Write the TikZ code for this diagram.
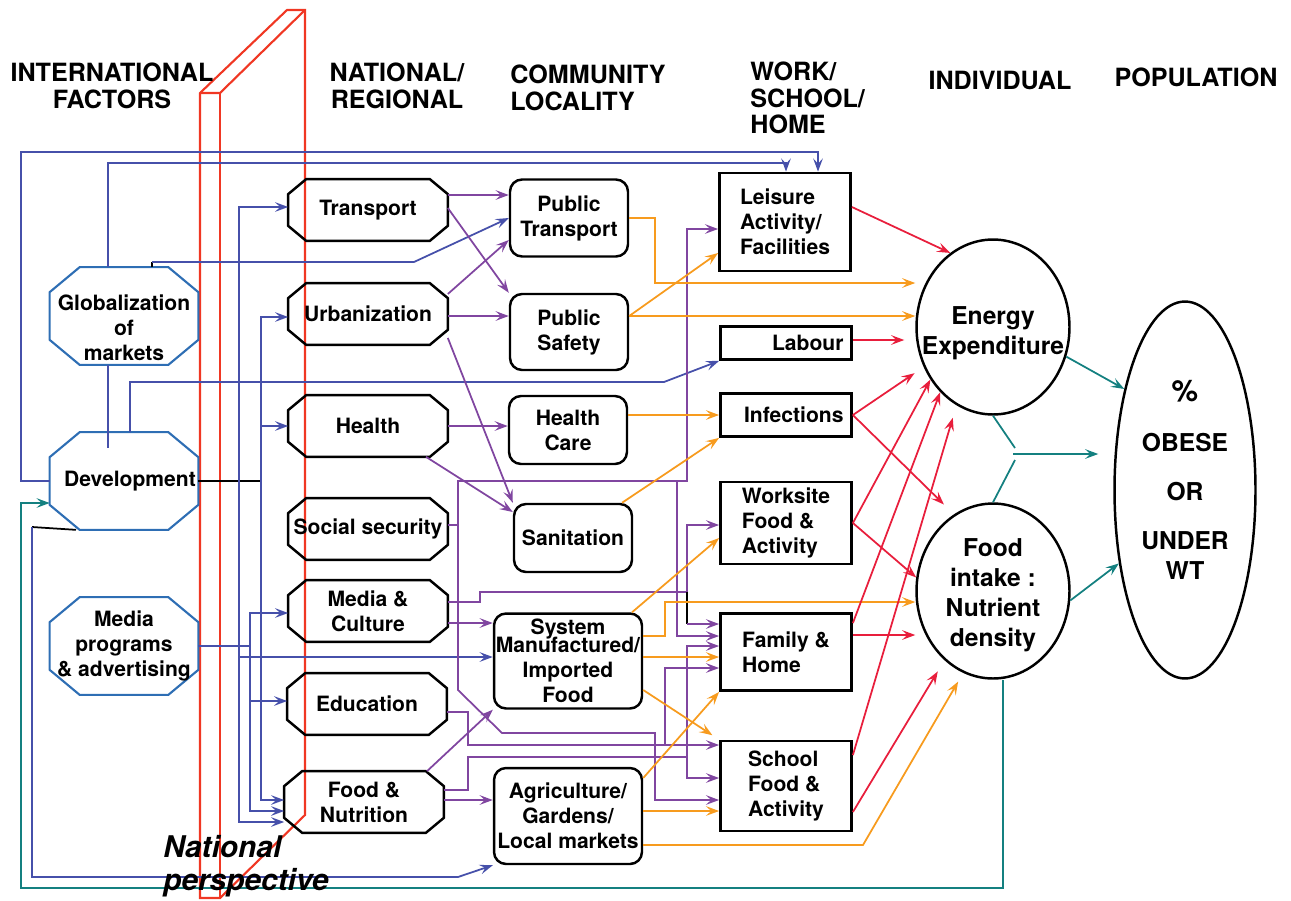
\documentclass[tikz,border=0pt]{standalone}
\usepackage{fontspec}
\setmainfont{TeX Gyre Heros}
\usetikzlibrary{arrows.meta,shapes.geometric}

\definecolor{octblue}{RGB}{46,110,180}
\definecolor{lnblue}{RGB}{70,80,170}
\definecolor{lnpurple}{RGB}{128,70,160}
\definecolor{lnorange}{RGB}{247,155,30}
\definecolor{lnred}{RGB}{232,30,60}
\definecolor{lnteal}{RGB}{20,128,128}
\definecolor{prism}{RGB}{240,55,35}

\newcommand{\ndfont}{\bfseries\fontsize{12}{14.2}\selectfont}
\newcommand{\hdrfont}{\bfseries\fontsize{14.3}{15}\selectfont}
\newcommand{\indvfont}{\bfseries\fontsize{14}{17}\selectfont}
\newcommand{\perspfont}{\bfseries\itshape\fontsize{17}{19}\selectfont}

\tikzset{
	octo/.style n args={3}{append after command={\pgfextra{\draw [#1]
		([xshift=#2]\tikzlastnode.north west) -- ([xshift=-#2]\tikzlastnode.north east) --
		([yshift=-#3]\tikzlastnode.north east) -- ([yshift=#3]\tikzlastnode.south east) --
		([xshift=-#2]\tikzlastnode.south east) -- ([xshift=#2]\tikzlastnode.south west) --
		([yshift=#3]\tikzlastnode.south west) -- ([yshift=-#3]\tikzlastnode.north west) -- cycle;}}},
	intl/.style={minimum width=2.96cm, minimum height=1.94cm, inner sep=0pt, font=\ndfont, align=center,
		octo={draw=octblue, line width=1.2pt}{0.6cm}{0.5cm}},
	natl/.style={minimum width=3.18cm, minimum height=1.22cm, inner sep=0pt, font=\ndfont, align=center,
		octo={line width=1.4pt}{0.36cm}{0.3cm}},
	comm/.style={draw, line width=1.4pt, rounded corners=0.24cm, minimum width=2.36cm, inner sep=0pt, font=\ndfont, align=center},
	work/.style={draw, line width=1.6pt, minimum width=2.62cm, inner sep=0pt, font=\ndfont, align=left},
	indiv/.style={draw, ellipse, line width=1.4pt, minimum width=3.06cm, minimum height=3.5cm, inner sep=0pt},
	ndtxt/.style={font=\ndfont, align=center},
	indtxt/.style={font=\indvfont, align=center},
	hdr/.style={font=\hdrfont, align=center, inner sep=0pt},
	persp/.style={font=\perspfont, align=left, anchor=west, inner sep=0pt},
	bl/.style={lnblue, line width=1pt},
	pl/.style={lnpurple, line width=1pt},
	ol/.style={lnorange, line width=1pt},
	rl/.style={lnred, line width=1pt},
	tl/.style={lnteal, line width=1pt},
	bk/.style={black, line width=1pt},
	prismline/.style={prism, line width=1.2pt},
	>={Stealth[length=7.5pt, width=5.5pt, inset=3pt]}
}

\begin{document}
\begin{tikzpicture}[x=0.02cm, y=-0.02cm]

	\useasboundingbox (0,0) rectangle (1291,900);

	\draw [prismline] (200,898) -- (200,93) -- (287,10) -- (305,10) -- (305,815) -- (220,898) -- cycle;
	\draw [prismline] (200,93) -- (220,93) -- (305,10);
	\draw [prismline] (220,93) -- (220,898);

	\node[hdr] (hintl) at (112,86) {INTERNATIONAL\\FACTORS};
	\node[hdr] (hnat) at (397,86) {NATIONAL/\\REGIONAL};
	\node[hdr, align=left, anchor=west] (hcomm) at (510,88) {COMMUNITY\\LOCALITY};
	\node[hdr, align=left, anchor=west] (hwork) at (750,98) {WORK/\\SCHOOL/\\HOME};
	\node[hdr] (hind) at (1000,80) {INDIVIDUAL};
	\node[hdr] (hpop) at (1196,77) {POPULATION};

	\node[intl, label={[ndtxt, yshift=-0.24cm]center:{Globalization\\of\\markets}}] (glob) at (124,316) {};
	\node[intl, label={[ndtxt, xshift=0.12cm]center:Development}] (dev) at (124,481) {};
	\node[intl] (mprog) at (124,646) {Media\\programs\\\& advertising};

	\node[natl] (transport) at (368,210) {Transport};
	\node[natl] (urban) at (368,314) {Urbanization};
	\node[natl] (health) at (368,426) {Health};
	\node[natl] (socsec) at (368,529) {Social security};
	\node[natl] (mcult) at (368,611) {Media \&\\Culture};
	\node[natl] (educ) at (367,704) {Education};
	\node[natl] (foodnut) at (364,802) {Food \&\\Nutrition};

	\node[comm, minimum height=1.54cm] (pubtrans) at (569,218) {Public\\Transport};
	\node[comm, minimum height=1.52cm] (pubsafe) at (569,332) {Public\\Safety};
	\node[comm, minimum height=1.36cm] (hcare) at (568,430) {Health\\Care};
	\node[comm, minimum height=1.36cm] (sanit) at (573,538) {Sanitation};
	\node[comm, minimum width=2.96cm, minimum height=1.9cm] (manuf) at (568,661) {System\\[-4pt]Manufactured/\\Imported\\Food};
	\node[comm, minimum width=2.96cm, minimum height=1.92cm] (agri) at (568,816) {Agriculture/\\Gardens/\\Local markets};

	\node[work, minimum height=1.96cm] (leisure) at (785,222) {Leisure\\Activity/\\Facilities};
	\node[work, minimum height=0.66cm, text width=2.3cm, align=right] (labour) at (786,343) {Labour};
	\node[work, minimum height=0.86cm, text width=2.3cm, align=right] (infect) at (786,415) {Infections};
	\node[work, minimum height=1.64cm] (worksite) at (786,523) {Worksite\\Food \&\\Activity};
	\node[work, minimum height=1.54cm] (family) at (786,652) {Family \&\\Home};
	\node[work, minimum height=1.8cm] (school) at (786,786) {School\\Food \&\\Activity};

	\node[indiv, label={[indtxt, yshift=-0.12cm]center:{Energy\\Expenditure}}] (energy) at (993,327) {};
	\node[indiv, label={[indtxt, yshift=-0.08cm]center:{Food\\intake :\\Nutrient\\density}}] (foodint) at (993,591) {};
	\node[indiv, minimum width=2.82cm, minimum height=7.54cm,
		label={[indtxt, yshift=0.2cm]center:{{\fontsize{17}{17}\selectfont\%}\\[11pt]OBESE\\[11pt]OR\\[11pt]UNDER\\WT}}] (popn) at (1185,490) {};

	\draw [bl, ->] (dev.west) -- (21,481) -- (21,152) -- (818,152) -- (leisure.north -| 818,0);
	\draw [bl, ->] (glob.north -| 108,0) -- (108,163) -- (786,163) -- (leisure.north -| 786,0);
	\draw [bk] (glob.north -| 152,0) -- (152,262);
	\draw [bl, ->] (152,262) -- (414,262) -- (pubtrans.west |- 0,218);
	\draw [bl] (glob.south -| 108,0) -- (108,448);
	\draw [bl, ->] (dev.north -| 130,0) -- (130,382) -- (664,382) -- (labour.south west);
	\draw [bk] (dev.east) -- (261,481);
	\draw [bl, ->] (261,481) -- (261,317) -- (urban.west |- 0,317);
	\draw [bl, ->] (261,426) -- (health.west |- 0,426);
	\draw [bl, ->] (261,481) -- (261,800) -- (foodnut.west |- 0,800);
	\draw [bl] (mprog.east |- 0,646) -- (250,646);
	\draw [bl, ->] (250,646) -- (250,613) -- (mcult.west |- 0,613);
	\draw [bl, ->] (250,701) -- (educ.west |- 0,701);
	\draw [bl, ->] (250,646) -- (250,811) -- (foodnut.west |- 0,811);
	\draw [bl, ->] (239,657) -- (239,207) -- (transport.west |- 0,207);
	\draw [bl, ->] (239,657) -- (239,822) -- (foodnut.west |- 0,822);
	\draw [bl, ->] (239,657) -- (manuf.west |- 0,657);
	\draw [bk] (dev.south -| 76,0) -- (32,527);
	\draw [bl, ->] (32,527) -- (32,877) -- (458,877) -- (agri.south west);

	\draw [tl, ->] (foodint.south -| 1003,0) -- (1003,888) -- (21,888) -- (21,503) -- (dev.west |- 0,503);

	\draw [pl, ->] (transport.east |- 0,195) -- (pubtrans.west |- 0,195);
	\draw [pl, ->] (transport.east |- 0,208) -- (pubsafe.north west);
	\draw [pl, ->] (urban.east |- 0,294) -- (pubtrans.west |- 0,240);
	\draw [pl, ->] (urban.east |- 0,316) -- (pubsafe.west |- 0,316);
	\draw [pl, ->] (urban.east |- 0,338) -- (sanit.north west);
	\draw [pl, ->] (health.east |- 0,426) -- (hcare.west |- 0,426);
	\draw [pl, ->] (health.south -| 426,0) -- (sanit.west |- 0,512);
	\draw [pl, ->] (socsec.east |- 0,525) -- (458,525) -- (458,481) -- (687,481) -- (687,229) -- (leisure.west |- 0,229);
	\draw [pl, ->] (458,525) -- (458,690) -- (502,733) -- (655,733) -- (655,800) -- (school.west |- 0,800);
	\draw [pl, ->] (677,481) -- (677,636) -- (family.west |- 0,636);
	\draw [pl] (mcult.east |- 0,602) -- (480,602) -- (480,592) -- (687,592);
	\draw [pl, ->] (687,592) -- (687,525) -- (worksite.west |- 0,525);
	\draw [bk] (687,592) -- (687,624);
	\draw [pl, ->] (687,624) -- (family.west |- 0,624);
	\draw [pl, ->] (mcult.east |- 0,623) -- (manuf.west |- 0,623);
	\draw [pl, ->] (educ.east |- 0,712) -- (468,712) -- (468,745) -- (school.west |- 0,745);
	\draw [pl, ->] (665,745) -- (665,668) -- (family.west |- 0,668);
	\draw [pl, ->] (foodnut.north -| 427,0) -- (manuf.south west);
	\draw [pl] (foodnut.east |- 0,790) -- (468,790) -- (468,757) -- (687,757);
	\draw [pl, ->] (687,757) -- (687,646) -- (family.west |- 0,646);
	\draw [pl, ->] (687,757) -- (687,778) -- (school.west |- 0,778);
	\draw [pl, ->] (foodnut.east |- 0,800) -- (agri.west |- 0,800);

	\draw [ol, ->] (pubtrans.east) -- (655,218) -- (655,283) -- (energy.west |- 0,283);
	\draw [ol, ->] (pubsafe.east |- 0,316) -- (leisure.west |- 0,253);
	\draw [ol, ->] (pubsafe.east |- 0,316) -- (energy.west |- 0,316);
	\draw [ol, ->] (hcare.east |- 0,415) -- (infect.west |- 0,415);
	\draw [ol, ->] (sanit.north -| 622,0) -- (infect.south west);
	\draw [ol, ->] (manuf.north -| 632,0) -- (worksite.west |- 0,538);
	\draw [ol, ->] (manuf.east |- 0,636) -- (665,636) -- (665,602) -- (foodint.west |- 0,602);
	\draw [ol, ->] (manuf.east |- 0,657) -- (family.west |- 0,657);
	\draw [ol, ->, shorten >=0.16cm] (manuf.east |- 0,690) -- (school.north west);
	\draw [ol, ->] (agri.east |- 0,778) -- (family.south west);
	\draw [ol, ->] (agri.east |- 0,811) -- (school.west |- 0,811);
	\draw [ol, ->, shorten >=0.2cm] (agri.east |- 0,845) -- (863,845) -- (foodint.250);

	\draw [rl, ->] (leisure.east |- 0,207) -- (energy.120);
	\draw [rl, ->, shorten >=0.22cm] (labour.east |- 0,340) -- (energy.west |- 0,340);
	\draw [rl, ->, shorten >=0.22cm] (infect.east) -- (energy.210);
	\draw [rl, ->, shorten >=0.28cm] (infect.east) -- (foodint.117);
	\draw [rl, ->] (worksite.east |- 0,523) -- (energy.220);
	\draw [rl, ->] (worksite.east |- 0,523) -- (foodint.170);
	\draw [rl, ->] (family.east |- 0,623) -- (energy.231);
	\draw [rl, ->] (family.east |- 0,635) -- (foodint.west |- 0,635);
	\draw [rl, ->, shorten >=0.26cm] (school.east |- 0,755) -- (energy.245);
	\draw [rl, ->, shorten >=0.26cm] (school.east |- 0,812) -- (foodint.235);

	\draw [tl, ->] (energy.338) -- (popn.121);
	\draw [tl] (energy.south) -- (1015,448);
	\draw [tl] (foodint.north) -- (1015,460);
	\draw [tl, ->, shorten >=0.3cm] (1013,454) -- (popn.west |- 0,454);
	\draw [tl, ->] (foodint.353) -- (popn.228);

	\node[persp] (natpersp) at (163,866) {National\\perspective};

\end{tikzpicture}
\end{document}
